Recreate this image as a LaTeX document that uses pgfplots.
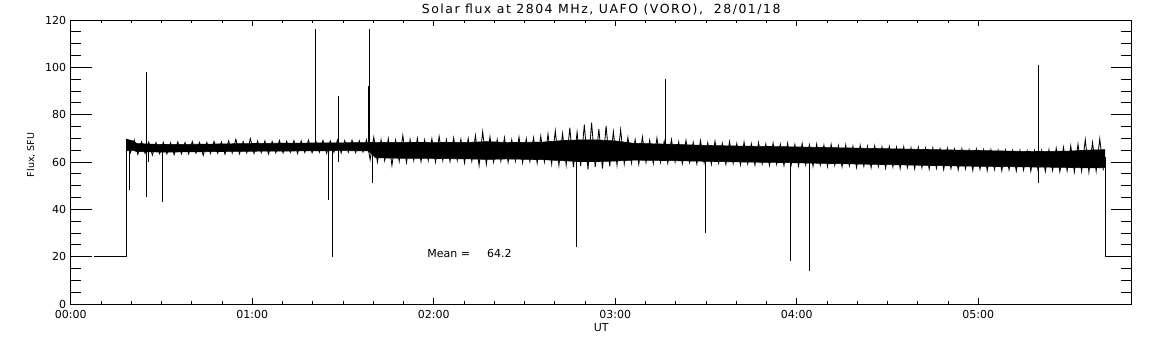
\documentclass[border=0pt]{standalone}
\usepackage{fontspec}
\setmainfont{DejaVu Sans}
\usepackage{pgfplots}
\usepgfplotslibrary{fillbetween}
\pgfplotsset{compat=1.18}
\usepackage{pgfplotstable}

% solid core of the noise band
\pgfplotstableread{
x u l
0.306 69.6 64.8
0.340 69.0 65.0
0.365 67.8 64.4
0.500 67.4 64.2
0.700 67.5 64.3
0.900 67.7 64.5
1.100 67.9 64.6
1.300 68.0 64.7
1.500 68.1 64.8
1.640 68.2 64.7
1.680 68.3 61.8
1.800 68.3 61.6
2.000 68.2 61.5
2.200 68.3 61.3
2.300 68.6 61.1
2.400 68.2 61.3
2.600 68.4 61.0
2.700 69.0 60.6
2.800 69.3 60.2
2.900 69.3 60.2
3.000 68.9 60.4
3.100 67.9 60.8
3.300 67.5 60.6
3.500 67.0 60.3
3.700 66.7 60.0
3.900 66.5 59.8
4.100 66.2 59.5
4.300 65.9 59.2
4.500 65.6 58.9
4.700 65.3 58.6
4.900 65.0 58.3
5.100 64.7 58.1
5.300 64.4 57.9
5.500 64.6 57.7
5.600 65.0 57.5
5.699 65.2 57.6
}\core

% noise extremes (alternating high / low samples)
\pgfplotstableread{
x y
0.31 69.8
0.33 64.0
0.35 69.3
0.37 63.2
0.39 68.5
0.41 63.6
0.43 68.4
0.45 62.9
0.47 68.2
0.49 63.5
0.51 68.3
0.53 63.4
0.55 68.1
0.57 63.1
0.59 68.5
0.61 63.5
0.63 68.2
0.65 63.4
0.67 68.6
0.69 63.7
0.71 68.2
0.73 62.8
0.75 68.3
0.77 63.6
0.79 68.7
0.81 63.7
0.83 68.4
0.85 63.3
0.87 68.9
0.89 63.8
0.91 69.6
0.93 63.5
0.95 68.6
0.97 63.9
0.99 69.9
1.01 63.6
1.03 68.8
1.05 64.0
1.07 68.9
1.09 63.4
1.11 68.7
1.13 63.9
1.15 69.1
1.17 63.8
1.19 68.8
1.21 64.1
1.23 69.0
1.25 63.6
1.27 68.9
1.29 64.0
1.31 69.2
1.33 63.9
1.35 68.9
1.37 64.1
1.39 69.1
1.41 63.7
1.43 68.9
1.45 64.1
1.47 69.3
1.49 63.8
1.51 69.0
1.53 64.1
1.55 69.2
1.57 64.0
1.59 69.0
1.61 64.2
1.63 69.4
1.65 61.0
1.67 70.5
1.69 60.0
1.71 69.4
1.73 60.6
1.75 69.8
1.77 58.5
1.79 69.2
1.81 60.3
1.83 71.2
1.85 59.8
1.87 69.5
1.89 60.7
1.91 70.0
1.93 60.2
1.95 69.3
1.97 60.6
1.99 69.8
2.01 60.0
2.03 70.8
2.05 60.6
2.07 69.4
2.09 60.2
2.11 70.2
2.13 60.7
2.15 69.6
2.17 59.6
2.19 70.0
2.21 60.3
2.23 71.2
2.25 58.5
2.27 72.8
2.29 59.1
2.31 70.6
2.33 60.0
2.35 69.5
2.37 60.4
2.39 70.3
2.41 59.9
2.43 69.4
2.45 60.4
2.47 70.5
2.49 59.7
2.51 69.8
2.53 60.2
2.55 70.2
2.57 59.5
2.59 70.9
2.61 60.1
2.63 71.8
2.65 59.2
2.67 73.2
2.69 58.6
2.71 72.0
2.73 58.8
2.75 74.5
2.77 57.8
2.79 72.6
2.81 58.3
2.83 75.8
2.85 56.8
2.87 76.6
2.89 57.8
2.91 74.0
2.93 57.2
2.95 75.2
2.97 58.2
2.99 72.8
3.01 58.7
3.03 73.6
3.05 59.2
3.07 70.4
3.09 59.6
3.11 69.5
3.13 59.1
3.15 70.6
3.17 59.8
3.19 69.2
3.21 59.4
3.23 70.1
3.25 59.9
3.27 68.8
3.29 59.5
3.31 69.5
3.33 60.0
3.35 68.5
3.37 59.3
3.39 69.2
3.41 59.8
3.43 68.3
3.45 59.2
3.47 69.0
3.49 59.7
3.51 68.1
3.53 59.1
3.55 68.8
3.57 59.5
3.59 67.9
3.61 59.0
3.63 68.6
3.65 59.4
3.67 67.8
3.69 58.8
3.71 68.4
3.73 59.3
3.75 67.7
3.77 58.7
3.79 68.2
3.81 59.2
3.83 67.6
3.85 58.6
3.87 68.0
3.89 59.0
3.91 67.5
3.93 58.5
3.95 67.9
3.97 58.9
3.99 67.4
4.01 58.3
4.03 67.8
4.05 58.8
4.07 67.2
4.09 58.2
4.11 67.6
4.13 58.7
4.15 67.1
4.17 58.1
4.19 67.4
4.21 58.6
4.23 66.9
4.25 57.9
4.27 67.2
4.29 58.4
4.31 66.7
4.33 57.7
4.35 67.0
4.37 58.2
4.39 66.6
4.41 57.6
4.43 66.8
4.45 58.1
4.47 66.4
4.49 57.4
4.51 66.6
4.53 57.9
4.55 66.2
4.57 57.3
4.59 66.4
4.61 57.7
4.63 66.0
4.65 57.1
4.67 66.2
4.69 57.6
4.71 65.8
4.73 57.0
4.75 66.0
4.77 57.4
4.79 65.6
4.81 56.8
4.83 65.8
4.85 57.2
4.87 65.4
4.89 56.7
4.91 65.6
4.93 57.1
4.95 65.2
4.97 56.5
4.99 65.4
5.01 56.9
5.03 65.1
5.05 56.4
5.07 65.2
5.09 56.8
5.11 64.9
5.13 56.3
5.15 65.0
5.17 56.7
5.19 64.8
5.21 56.2
5.23 64.9
5.25 56.6
5.27 64.7
5.29 56.1
5.31 64.8
5.33 56.5
5.35 64.9
5.37 56.0
5.39 65.2
5.41 56.4
5.43 65.8
5.45 55.9
5.47 66.2
5.49 56.3
5.51 66.8
5.53 55.8
5.55 67.5
5.57 56.2
5.59 69.5
5.61 55.7
5.63 68.2
5.65 56.1
5.67 69.8
5.69 56.5
}\noise

\begin{document}
\begin{tikzpicture}
\pgfplotsset{
  common/.style={
    scale only axis, width=1061bp, height=284bp,
    at={(0,0)}, anchor=south west,
    xmin=0, xmax=5.846, ymin=0, ymax=120,
    axis line style={black, line width=0.8bp},
    tick style={black, line width=0.8bp},
    tick align=inside,
    tick pos=both,
    font=\fontsize{11bp}{13bp}\selectfont,
    /pgf/number format/assume math mode=true,
  }
}
\begin{axis}[common,
    major tick length=5.7bp, minor tick length=2.85bp,
    xtick={0,1,2,3,4,5},
    xticklabels={00:00,01:00,02:00,03:00,04:00,05:00},
    minor x tick num=5,
    ytick=\empty,
    xticklabel style={yshift=-3bp},
    title={Solar flux at 2804 MHz, UAFO (VORO),\ \ 28/01/18},
    title style={at={(rel axis cs:0.5,1)}, anchor=center, yshift=4bp,
      font=\fontsize{12.5bp}{14bp}\selectfont\addfontfeature{LetterSpace=12}},
    xlabel={UT},
    xlabel style={at={(rel axis cs:0.5,0)}, anchor=center, yshift=-24bp},
    unbounded coords=jump,
  ]
  \addplot[name path=U, black, line width=0.6bp] table[x=x, y=u] {\core};
  \addplot[name path=L, black, line width=0.6bp] table[x=x, y=l] {\core};
  \addplot[black] fill between[of=U and L];
  \addplot[black, line width=0.85bp] table[x=x, y=y] {\noise};
  % start and end steps
  \addplot[black, line width=0.9bp] coordinates {(0.130,20) (0.306,20) (0.306,68)};
  \addplot[black, line width=0.9bp] coordinates {(5.699,62) (5.699,20) (5.846,20)};
  % spikes
  \addplot[black, line width=0.9bp] coordinates {
    (0.321,65) (0.321,48) (0.321,nan)
    (0.415,98) (0.415,45) (0.415,nan)
    (0.428,65) (0.428,60) (0.428,nan)
    (0.505,65) (0.505,43) (0.505,nan)
    (1.351,116) (1.351,66) (1.351,nan)
    (1.418,66) (1.418,44) (1.418,nan)
    (1.440,66) (1.440,20) (1.440,nan)
    (1.473,88) (1.473,60) (1.473,nan)
    (1.642,92) (1.642,66) (1.642,nan)
    (1.648,116) (1.648,66) (1.648,nan)
    (1.663,66) (1.663,51) (1.663,nan)
    (2.784,65) (2.784,24) (2.784,nan)
    (3.275,95) (3.275,65) (3.275,nan)
    (3.497,63) (3.497,30) (3.497,nan)
    (3.963,63) (3.963,18) (3.963,nan)
    (4.068,63) (4.068,14) (4.068,nan)
    (5.330,101) (5.330,51)
  };
  \node[anchor=west, font=\fontsize{11bp}{13bp}\selectfont] at (axis cs:1.946,21.5) {Mean =\hspace{17bp}64.2};
\end{axis}
\begin{axis}[common,
    major tick length=21bp, minor tick length=10.5bp,
    xtick=\empty,
    ytick={0,20,40,60,80,100,120},
    minor y tick num=3,
    yticklabel style={xshift=-1bp},
    ylabel={Flux, SFU},
    every axis y label/.style={at={(rel axis cs:0,0.525)}, xshift=-39.7bp, rotate=90, anchor=center,
      font=\fontsize{9.5bp}{11bp}\selectfont},
  ]
  \addplot[draw=none] coordinates {(0,0) (5.846,120)};
\end{axis}
\pgfresetboundingbox
\path[use as bounding box] (-70.7bp,-41bp) rectangle (1081.3bp,304bp);
\end{tikzpicture}
\end{document}
